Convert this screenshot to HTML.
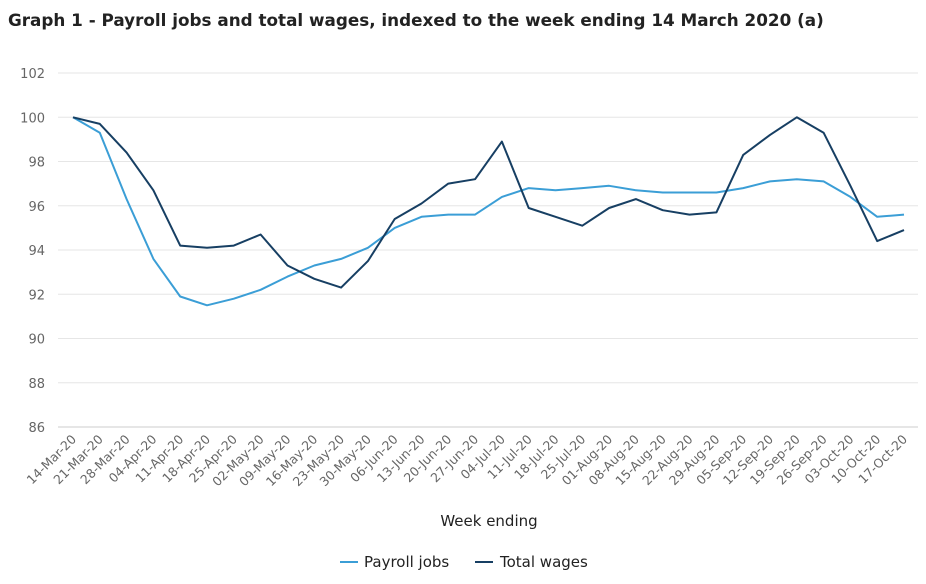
<!DOCTYPE html>
<html><head><meta charset="utf-8"><style>
body{margin:0;background:#fff;font-family:"DejaVu Sans","Liberation Sans",sans-serif;}
svg text{font-family:"DejaVu Sans","Liberation Sans",sans-serif;}
</style></head><body>
<svg id="c" width="926" height="580" xmlns="http://www.w3.org/2000/svg">
<text x="8" y="26" font-size="16.8" font-weight="bold" fill="#222">Graph 1 - Payroll jobs and total wages, indexed to the week ending 14 March 2020 (a)</text>
<g id="grid"></g><g id="xl"></g><g id="series"></g>
<text x="489" y="526" font-size="15" fill="#222" text-anchor="middle">Week ending</text>
<g>
<g><line x1="340" y1="562" x2="358" y2="562" stroke="#3b9ed6" stroke-width="2"/><text x="364" y="567" font-size="15" fill="#222">Payroll jobs</text></g>
<g><line x1="475" y1="562" x2="493" y2="562" stroke="#173f63" stroke-width="2"/><text x="500" y="567" font-size="15" fill="#222">Total wages</text></g>
</g>
</svg>
<script>
const categories=["14-Mar-20","21-Mar-20","28-Mar-20","04-Apr-20","11-Apr-20","18-Apr-20","25-Apr-20","02-May-20","09-May-20","16-May-20","23-May-20","30-May-20","06-Jun-20","13-Jun-20","20-Jun-20","27-Jun-20","04-Jul-20","11-Jul-20","18-Jul-20","25-Jul-20","01-Aug-20","08-Aug-20","15-Aug-20","22-Aug-20","29-Aug-20","05-Sep-20","12-Sep-20","19-Sep-20","26-Sep-20","03-Oct-20","10-Oct-20","17-Oct-20"];
const payrollJobs=[100,99.3,96.3,93.6,91.9,91.5,91.8,92.2,92.8,93.3,93.6,94.1,95.0,95.5,95.6,95.6,96.4,96.8,96.7,96.8,96.9,96.7,96.6,96.6,96.6,96.8,97.1,97.2,97.1,96.4,95.5,95.6];
const totalWages=[100,99.7,98.4,96.7,94.2,94.1,94.2,94.7,93.3,92.7,92.3,93.5,95.4,96.1,97.0,97.2,98.9,95.9,95.5,95.1,95.9,96.3,95.8,95.6,95.7,98.3,99.2,100.0,99.3,96.9,94.4,94.9];
const yTicks=[86,88,90,92,94,96,98,100,102];
const NS="http://www.w3.org/2000/svg";
const x0=73,x1=904,yTop=73,yBot=427,yMin=86,yMax=102;
const xs=i=>x0+(x1-x0)*i/(categories.length-1);
const ys=v=>yBot-(v-yMin)/(yMax-yMin)*(yBot-yTop);
function mk(t,a,p){const e=document.createElementNS(NS,t);for(const k in a)e.setAttribute(k,a[k]);p.appendChild(e);return e;}
const grid=document.getElementById('grid');
yTicks.forEach(v=>{
 const l=mk('line',{x1:58,x2:918,y1:ys(v),y2:ys(v),stroke:v===yMin?'#ccc':'#e6e6e6','stroke-width':1},grid);
 
 
 const t=mk('text',{x:45,y:ys(v)+5,'font-size':13,fill:'#666','text-anchor':'end'},grid);
 t.textContent=v;
 
 
});
const xl=document.getElementById('xl');
categories.forEach((c,i)=>{
 const x=xs(i);
 const t=mk('text',{x:x+4,y:440,'font-size':12.5,fill:'#666','text-anchor':'end',transform:`rotate(-45 ${x+4} 440)`},xl);
 t.textContent=c;
 
 
});
const sg=document.getElementById('series');
[[payrollJobs,'#3b9ed6','payroll-jobs-line'],[totalWages,'#173f63','total-wages-line']].forEach(([d,col,name])=>{
 const p=mk('path',{d:d.map((v,i)=>(i?'L':'M')+xs(i).toFixed(1)+' '+ys(v).toFixed(1)).join(''),fill:'none',stroke:col,'stroke-width':2,'stroke-linejoin':'round'},sg);
 
 
});
</script>
</body></html>
